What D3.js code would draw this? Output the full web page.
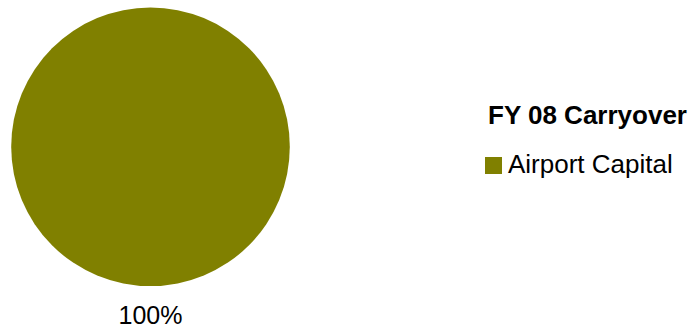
<!DOCTYPE html>
<html>
<head>
<meta charset="utf-8">
<script src="https://cdn.jsdelivr.net/npm/d3@7"></script>
<style>
  html, body { margin: 0; padding: 0; background: #fff; }
  svg { display: block; font-family: Arial, "Liberation Sans", sans-serif; }
</style>
</head>
<body>
<svg id="chart" width="692" height="330"></svg>
<script>
// Carryover breakdown for FY 08
const legendTitle = "FY 08 Carryover";
const categories = ["Airport Capital"];
const values = [100];
const colors = ["#808000"];

const svg = d3.select("#chart");
const cx = 150.5, cy = 146.8, radius = 139.3;

const pie = d3.pie().sort(null).value(d => d.value);
const arcs = pie(categories.map((c, i) => ({ name: c, value: values[i] })));
const total = d3.sum(values);

const arc = d3.arc().innerRadius(0).outerRadius(radius);
const color = d3.scaleOrdinal().domain(categories).range(colors);

const g = svg.append("g").attr("transform", `translate(${cx},${cy})`);
g.selectAll("path")
  .data(arcs)
  .join("path")
  .attr("d", arc)
  .attr("fill", d => color(d.data.name));

// Percentage labels sit just below the pie
const fmt = d3.format(".0%");
g.selectAll("text.pct")
  .data(arcs)
  .join("text")
  .attr("class", "pct")
  .attr("x", 0)
  .attr("y", radius + 38)
  .attr("text-anchor", "middle")
  .attr("font-size", 25)
  .attr("fill", "#000")
  .text(d => fmt(d.data.value / total));

// Legend
const legend = svg.append("g").attr("transform", "translate(488,124)");
legend.append("text")
  .attr("x", 0).attr("y", 0)
  .attr("font-size", 26)
  .attr("font-weight", "bold")
  .attr("fill", "#000")
  .text(legendTitle);

const item = legend.selectAll("g.item")
  .data(categories)
  .join("g")
  .attr("class", "item")
  .attr("transform", (d, i) => `translate(0,${49 + i * 34})`);
item.append("rect")
  .attr("x", -3).attr("y", -16)
  .attr("width", 17).attr("height", 17)
  .attr("fill", d => color(d));
item.append("text")
  .attr("x", 20).attr("y", 0)
  .attr("font-size", 26)
  .attr("fill", "#000")
  .text(d => d);
</script>
</body>
</html>
